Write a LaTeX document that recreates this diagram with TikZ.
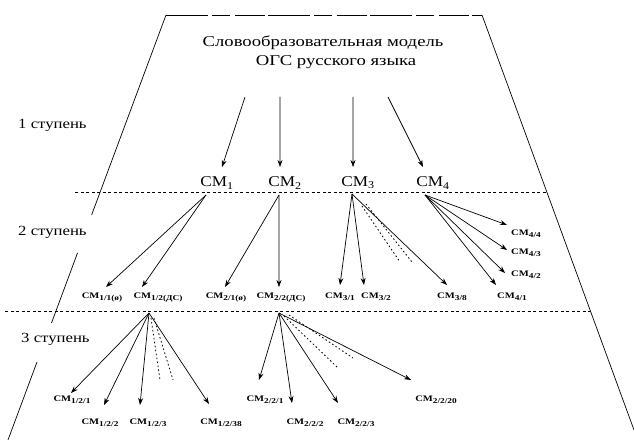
\documentclass[tikz,border=0pt]{standalone}
\usepackage{graphicx}
\usepackage{fontspec}
\setmainfont{Liberation Serif}
\usetikzlibrary{arrows.meta}

% broad lettering used throughout the scheme
\newcommand\broad[2][1.25]{\scalebox{#1}[1]{#2}}
% word-formation model labels: СМ with an index
\newcommand\smodel[1]{\broad[1.15]{СМ\textsubscript{#1}}}
\newcommand\smallmodel[1]{\broad{\fontsize{8.5}{10}\selectfont СМ\raisebox{-2bp}{\fontsize{7.5}{9}\selectfont #1}}}

\begin{document}
\begin{tikzpicture}[x=1bp,y=-1bp,
  edge/.style={line width=0.7pt,-{Stealth[length=7bp,width=5bp]}},
  hint/.style={line width=0.8pt,dash pattern=on 1.6bp off 2.4bp},
  border/.style={line width=0.7pt},
  topedge/.style={line width=0.7pt,dash pattern=on 42bp off 4bp on 18bp off 5bp on 30bp off 3bp},
  divider/.style={line width=0.6pt,dash pattern=on 3bp off 2.5bp},
  titletext/.style={font=\fontsize{15}{17}\selectfont,inner sep=0pt},
  stagetext/.style={font=\fontsize{14}{16}\selectfont,anchor=west,inner sep=0pt},
  bigmodel/.style={font=\fontsize{15}{17}\selectfont,inner sep=6bp},
  model/.style={font=\bfseries,inner sep=1pt}]
\useasboundingbox (0,0) rectangle (634,440);

% ---- frame: trapezoid, left side broken around the stage captions
\draw[topedge] (166,15) -- (482,15);
\draw[border] (166,15) -- (91.6,215);
\draw[border] (77.5,253) -- (51.5,323);
\draw[border] (37,362) -- (8,440);
\draw[border] (482,15) -- (634,430);

% ---- level dividers
\draw[divider] (75,192) -- (547,192);
\draw[divider] (5,311) -- (590,311);

% ---- title
\node[titletext] (title1) at (323,43) {\broad{Словообразовательная модель}};
\node[titletext] (title2) at (336,62) {\broad{ОГС русского языка}};

% ---- stage captions
\node[stagetext] (st1) at (18,125) {\broad[1.2]{1 ступень}};
\node[stagetext] (st2) at (18,232) {\broad[1.2]{2 ступень}};
\node[stagetext] (st3) at (21,339) {\broad[1.2]{3 ступень}};

% ---- first stage
\node[bigmodel] (cm1) at (217,183) {\smodel{1}};
\node[bigmodel] (cm2) at (285,183) {\smodel{2}};
\node[bigmodel] (cm3) at (358,183) {\smodel{3}};
\node[bigmodel] (cm4) at (433,183) {\smodel{4}};

\coordinate (s1) at (245,97);
\coordinate (s2) at (280,97);
\coordinate (s3) at (353,97);
\coordinate (s4) at (388,97);
\draw[edge] (s1) -- ([xshift=5bp,yshift=16bp]cm1.center);
\draw[edge] (s2) -- ([xshift=-5bp,yshift=16bp]cm2.center);
\draw[edge] (s3) -- ([xshift=-5bp,yshift=16bp]cm3.center);
\draw[edge] (s4) -- ([xshift=-10bp,yshift=16bp]cm4.center);

% ---- second stage
\node[model] (n11) at (102,297) {\smallmodel{1/1(ø)}};
\node[model] (n12) at (158,297) {\smallmodel{1/2(ДС)}};
\node[model] (n21) at (226,297) {\smallmodel{2/1(ø)}};
\node[model] (n22) at (281,297) {\smallmodel{2/2(ДС)}};
\node[model] (n31) at (340,297) {\smallmodel{3/1}};
\node[model] (n32) at (376,297) {\smallmodel{3/2}};
\node[model] (n38) at (452,297) {\smallmodel{3/8}};
\node[model] (n41) at (512,297) {\smallmodel{4/1}};
\node[model,anchor=west] (n42) at (510,275) {\smallmodel{4/2}};
\node[model,anchor=west] (n43) at (510,253) {\smallmodel{4/3}};
\node[model,anchor=west] (n44) at (510,234) {\smallmodel{4/4}};

\coordinate (o1) at (206,195);
\coordinate (o2) at (279,195);
\coordinate (o3) at (352,194);
\coordinate (o4) at (425,195);

\draw[edge] (o1) -- ([xshift=4bp,yshift=10bp]n11.center);
\draw[edge] (o1) -- ([xshift=-16bp,yshift=10bp]n12.center);
\draw[edge] (o2) -- ([xshift=-1bp,yshift=10bp]n21.center);
\draw[edge] (o2) -- ([xshift=-2bp,yshift=10bp]n22.center);
\draw[edge] (o3) -- ([yshift=12bp]n31.center);
\draw[edge] (o3) -- ([xshift=-12bp,yshift=12bp]n32.center);
\draw[edge] (o3) -- ([xshift=-5bp,yshift=12bp]n38.center);
\draw[hint] (362,206) -- (400,262);
\draw[hint] (366,204) -- (412,262);
\draw[edge] (o4) -- ([xshift=-16bp,yshift=12bp]n41.center);
\draw[edge] (o4) -- ([xshift=-5bp,yshift=2bp]n42.west);
\draw[edge] (o4) -- ([xshift=-3bp,yshift=3bp]n43.west);
\draw[edge] (o4) -- ([xshift=-3bp,yshift=9bp]n44.west);

% ---- third stage
\node[model] (m1) at (72,400) {\smallmodel{1/2/1}};
\node[model] (m2) at (100,423) {\smallmodel{1/2/2}};
\node[model] (m3) at (148,423) {\smallmodel{1/2/3}};
\node[model] (m38) at (221,423) {\smallmodel{1/2/38}};
\node[model] (k1) at (265,400) {\smallmodel{2/2/1}};
\node[model] (k2) at (305,423) {\smallmodel{2/2/2}};
\node[model] (k3) at (356,423) {\smallmodel{2/2/3}};
\node[model] (k20) at (436,400) {\smallmodel{2/2/20}};

\coordinate (q1) at (149,313);
\coordinate (q2) at (279,313);

\draw[edge] (q1) -- ([xshift=-1bp,yshift=7bp]m1.center);
\draw[edge] (q1) -- ([xshift=4bp,yshift=18bp]m2.center);
\draw[edge] (q1) -- ([xshift=-8bp,yshift=18bp]m3.center);
\draw[edge] (q1) -- ([xshift=-12bp,yshift=19bp]m38.center);
\draw[hint] (151,318) -- (160,380);
\draw[hint] (154,318) -- (173,380);

\draw[edge] (q2) -- ([xshift=-6bp,yshift=20bp]k1.center);
\draw[edge] (q2) -- ([xshift=-13bp,yshift=20bp]k2.center);
\draw[edge] (q2) -- ([xshift=-18bp,yshift=20bp]k3.center);
\draw[edge] (q2) -- ([xshift=-25bp,yshift=20bp]k20.center);
\draw[hint] (284,316) -- (337,367);
\draw[hint] (289,315) -- (353,358);
\end{tikzpicture}
\end{document}
